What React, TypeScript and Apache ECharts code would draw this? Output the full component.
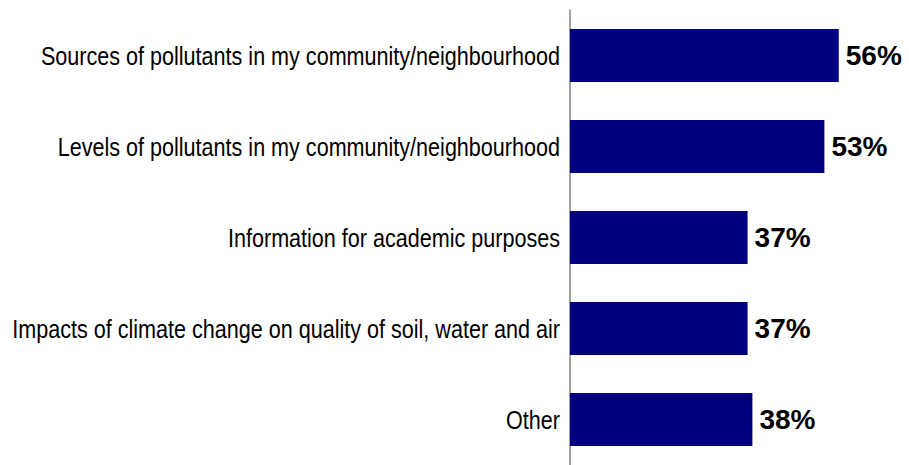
import React, { useEffect, useRef } from "react";
import * as echarts from "echarts";

const categories = [
  "Sources of pollutants in my community/neighbourhood",
  "Levels of pollutants in my community/neighbourhood",
  "Information for academic purposes",
  "Impacts of climate change on quality of soil, water and air",
  "Other",
];
const values = [56, 53, 37, 37, 38];

export default function App() {
  const ref = useRef<HTMLDivElement>(null);
  useEffect(() => {
    document.body.style.margin = "0";
    const chart = echarts.init(ref.current!, undefined, { renderer: "svg" });
    chart.setOption({
      animation: false,
      backgroundColor: "#ffffff",
      grid: { left: 570, right: 3, top: 10, bottom: -4, containLabel: false },
      xAxis: {
        type: "value",
        min: 0,
        max: 70,
        show: false,
      },
      yAxis: {
        type: "category",
        data: categories,
        inverse: true,
        axisLine: { show: true, lineStyle: { color: "#808080", width: 1.5 } },
        axisTick: { show: false },
        splitLine: { show: false },
        axisLabel: { show: false },
      },
      series: [
        {
          type: "bar",
          data: values,
          barWidth: 53,
          itemStyle: { color: "#000080" },
          label: {
            show: true,
            position: "right",
            distance: 7,
            formatter: "{c}%",
            color: "#000000",
            fontSize: 28,
            fontWeight: "bold",
            fontFamily: "'Liberation Sans', Arial, sans-serif",
          },
        },
        {
          type: "custom",
          silent: true,
          clip: false,
          data: categories.map((c, i) => [0, i]),
          encode: { x: 0, y: 1 },
          renderItem: (params: any, api: any) => {
            const p = api.coord([0, api.value(1)]);
            return {
              type: "text",
              x: p[0] - 10,
              y: p[1],
              scaleX: 0.83,
              style: {
                text: categories[params.dataIndex],
                align: "right",
                verticalAlign: "middle",
                fontSize: 26,
                fontFamily: "'Liberation Sans', Arial, sans-serif",
                fill: "#000000",
              },
            };
          },
        },
      ],
    });
    return () => chart.dispose();
  }, []);
  return <div ref={ref} style={{ width: 909, height: 465 }} />;
}
